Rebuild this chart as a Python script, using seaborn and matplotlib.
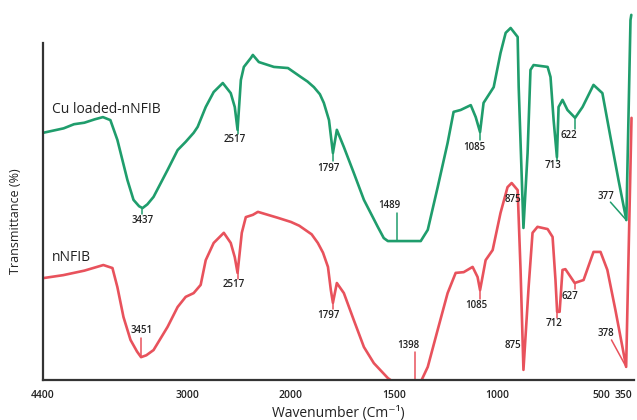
import numpy as np
import pandas as pd
import matplotlib
matplotlib.use("Agg")
import matplotlib.pyplot as plt
import seaborn as sns

# ---------------- data ----------------
cu_wn = [4400, 4300, 4200, 4100, 4000, 3900, 3820, 3748, 3680, 3583, 3524, 3470, 3437,
         3390, 3330, 3194, 3097, 3019, 2942, 2903, 2825, 2748, 2660, 2583, 2544, 2517,
         2485, 2456, 2388, 2369, 2311, 2165, 2029, 1952, 1920, 1889, 1860, 1841, 1816, 1797,
         1778, 1744, 1696, 1647, 1580, 1551, 1531, 1489, 1420, 1372, 1338, 1290,
         1242, 1213, 1179, 1130, 1106, 1085, 1068, 1019, 986, 961, 937, 903, 898,
         875, 855, 841, 826, 758, 744, 729, 713, 705, 686, 662, 625, 589, 536,
         493, 454, 415, 377, 357, 353]
cu_T = [66.0, 66.6, 67.2, 68.3, 68.7, 69.6, 70.2, 69.4, 64.1, 53.4, 48.1, 46.4, 45.9,
        46.9, 48.9, 56.1, 61.4, 63.6, 66.0, 67.6, 72.9, 76.9, 79.3, 76.6, 72.9, 66.8,
        80.1, 83.6, 86.0, 86.8, 84.9, 83.6, 83.3, 80.9, 79.7, 78.2, 76.3, 74.0, 69.4, 60.6,
        66.8, 62.2, 55.3, 48.1, 40.9, 37.9, 37.1, 37.1, 37.1, 37.1, 40.1, 51.5,
        63.3, 71.6, 72.1, 73.4, 70.2, 66.2, 74.0, 78.2, 87.3, 92.7, 94.0, 91.6, 78.2,
        40.6, 60.6, 82.8, 84.1, 83.6, 80.9, 69.4, 59.5, 72.9, 74.8, 72.1, 70.0, 72.9, 78.8,
        76.6, 64.9, 53.4, 42.7, 96.1, 97.5]

n_wn = [4400, 4204, 4000, 3816, 3728, 3680, 3621, 3553, 3490, 3451, 3400, 3330, 3194, 3097,
        3019, 2942, 2874, 2825, 2748, 2650, 2583, 2544, 2517, 2476, 2437, 2369,
        2320, 2126, 2000, 1960, 1900, 1870, 1845, 1821, 1807, 1797, 1778, 1744, 1696, 1647,
        1599, 1531, 1493, 1420, 1372, 1338, 1290, 1242, 1203, 1164, 1121, 1097,
        1085, 1058, 1024, 986, 952, 932, 903, 889, 875, 850, 831, 807, 758, 734,
        720, 712, 700, 686, 672, 627, 584, 536, 502, 469, 430, 396, 378, 352]
n_T = [27.2, 28.0, 29.2, 30.7, 29.9, 24.8, 16.8, 10.7, 7.6, 6.1, 6.6, 8.0, 14.2, 19.5,
       22.2, 23.2, 25.4, 32.0, 36.6, 39.3, 36.6, 32.8, 28.6, 39.3, 43.5, 44.1,
       44.9, 43.3, 42.2, 41.2, 38.9, 36.6, 34.0, 30.2, 24.0, 20.6, 25.9, 23.2, 16.0, 8.8,
       4.5, 0.5, -1.0, -1.3, -0.5, 3.5, 13.4, 23.2, 28.6, 28.8, 30.2, 27.5,
       24.0, 32.0, 34.7, 44.6, 51.5, 52.6, 50.7, 29.4, 2.7, 24.8, 39.3, 40.9, 40.3, 38.2,
       26.7, 18.2, 18.2, 29.4, 29.6, 25.9, 26.7, 34.2, 34.2, 29.4, 18.7, 8.8, 3.5, 70.0]

xtick_vals = [4400, 3000, 2000, 1500, 1000, 500, 350]
xtick_labels = ["4400", "3000", "2000", "1500", "1000", "500", "350"]

series_names = ["Cu loaded-nNFIB", "nNFIB"]
colors = ["#1f9d6c", "#e8525c"]

# peak labels: (text, text_wn, text_T, line_from (wn, T), line_to (wn, T))
cu_peaks = [
    ("3437", 3437, 42.7, (3437, 45.9), (3437, 44.3)),
    ("2517", 2545, 64.3, (2517, 66.8), (2517, 65.6)),
    ("1797", 1821, 56.6, (1797, 60.6), (1797, 58.4)),
    ("1489", 1522, 46.7, (1489, 37.1), (1489, 44.6)),
    ("1085", 1111, 62.2, (1085, 66.2), (1085, 64.2)),
    ("875", 928, 48.3, None, None),
    ("713", 734, 57.4, (713, 59.5), (713, 58.6)),
    ("622", 657, 65.4, (625, 70.0), (625, 67.0)),
    ("377", 478, 49.1, (454, 47.5), (377, 42.7)),
]
n_peaks = [
    ("3451", 3447, 13.1, (3451, 6.1), (3451, 11.2)),
    ("2517", 2553, 25.4, (2517, 28.6), (2517, 26.9)),
    ("1797", 1821, 17.1, (1797, 20.6), (1797, 18.9)),
    ("1398", 1430, 9.1, (1398, 0.0), (1398, 7.6)),
    ("1085", 1101, 19.8, (1085, 24.0), (1085, 21.6)),
    ("875", 928, 9.3, None, None),
    ("712", 729, 15.0, (712, 18.2), (712, 16.6)),
    ("627", 652, 22.4, (627, 25.9), (627, 24.3)),
    ("378", 478, 12.3, (449, 10.7), (378, 3.5)),
]

# ---------------- plotting ----------------
sns.set_style("white")
plt.rcParams['font.family'] = ['Open Sans', 'DejaVu Sans']

df = pd.concat([
    pd.DataFrame({"wn": cu_wn, "T": cu_T, "sample": series_names[0]}),
    pd.DataFrame({"wn": n_wn, "T": n_T, "sample": series_names[1]}),
])

fig = plt.figure(figsize=(6.37, 4.20), dpi=100)
ax = fig.add_axes([43 / 637, 40 / 420, (634 - 43) / 637, 370 / 420])


def fwd(w):
    w = np.asarray(w, dtype=float)
    return np.where(w > 2000, 2000 + (w - 2000) * 0.5, w)


def inv(p):
    p = np.asarray(p, dtype=float)
    return np.where(p > 2000, 2000 + (p - 2000) * 2.0, p)


ax.set_xscale("function", functions=(fwd, inv))

sns.lineplot(data=df, x="wn", y="T", hue="sample", palette=colors,
             hue_order=series_names, sort=False, estimator=None,
             linewidth=1.9, legend=False, ax=ax)
for ln in ax.get_lines():
    ln.set_solid_joinstyle("round")

ax.set_xlim(4400, 340)
ax.set_ylim(0, 98.8)

ax.set_xticks(xtick_vals)
ax.set_xticklabels(xtick_labels)
ax.set_yticks(np.arange(0, 91, 10))
ax.set_yticklabels([])
ax.xaxis.set_minor_locator(matplotlib.ticker.NullLocator())

ax.tick_params(axis="x", direction="inout", length=4, width=1, colors="#333333",
               labelsize=7.5, pad=5, labelcolor="#222222")
ax.tick_params(axis="y", direction="out", length=3, width=1, colors="#333333")
xlabs = ax.get_xticklabels()
for lab in xlabs:
    lab.set_fontweight("semibold")
xlabs[-1].set_horizontalalignment("right")

for s in ["top", "right"]:
    ax.spines[s].set_visible(False)
for s in ["left", "bottom"]:
    ax.spines[s].set_color("#333333")
    ax.spines[s].set_linewidth(1.6)
ax.spines["left"].set_bounds(0, 90)

ax.set_xlabel("Wavenumber (Cm⁻¹)", fontsize=10, color="#222222", labelpad=4)
ax.set_ylabel("Transmittance (%)", fontsize=9, color="#222222")
ax.yaxis.set_label_coords(-0.036, 0.43)

# series names
ax.text(4311, 72.1, series_names[0], fontsize=10, color="#222222", ha="left", va="center")
ax.text(4311, 32.8, series_names[1], fontsize=10, color="#222222", ha="left", va="center")

for peaks, col in [(cu_peaks, colors[0]), (n_peaks, colors[1])]:
    for txt, tx, ty, p0, p1 in peaks:
        ax.text(tx, ty, txt, fontsize=7, color="#222222", ha="center", va="center",
                fontweight="semibold")
        if p0 is not None:
            ax.plot([p0[0], p1[0]], [p0[1], p1[1]], color=col, linewidth=1.1)

fig.savefig("out.png", dpi=100)
